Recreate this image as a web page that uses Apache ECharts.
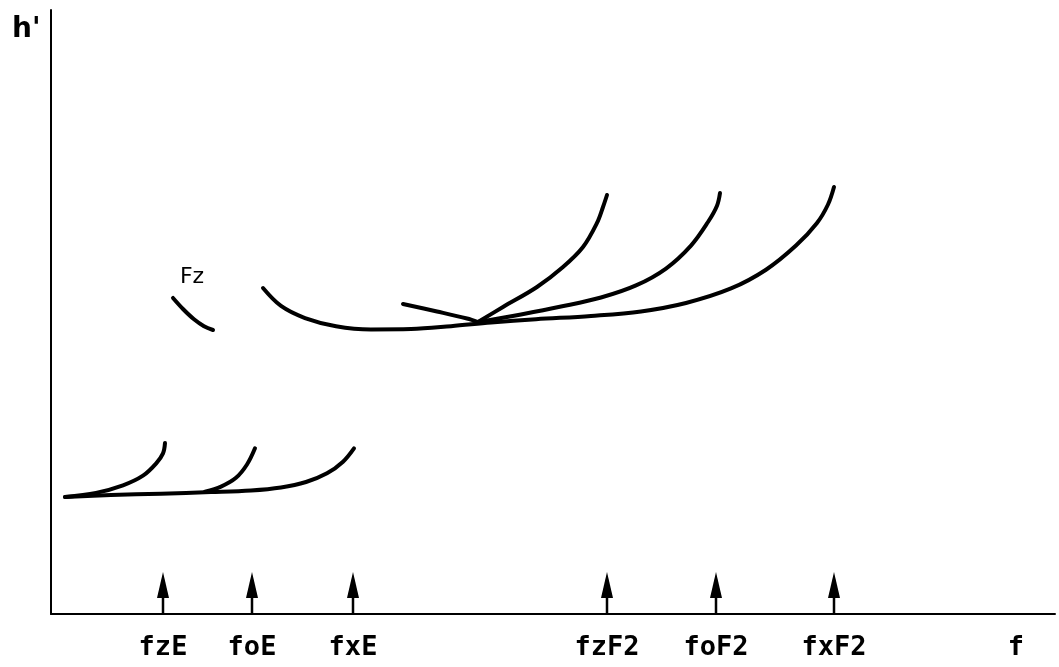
<!DOCTYPE html>
<html>
<head>
<meta charset="utf-8">
<script src="https://cdn.jsdelivr.net/npm/echarts@6/dist/echarts.min.js"></script>
<style>html,body{margin:0;padding:0;background:#fff}#c{width:1059px;height:667px}</style>
</head>
<body>
<div id="c"></div>
<script>
// ---- data (frequency f in arbitrary units, virtual height h' in arbitrary units) ----
const tickNames  = ['fzE', 'foE', 'fxE', 'fzF2', 'foF2', 'fxF2', 'f'];
const tickValues = [11.2, 20.1, 30.2, 55.6, 66.5, 78.3, 96.5];
const arrowFreqs = [11.2, 20.1, 30.2, 55.6, 66.5, 78.3];
const arrowTip = 6.95;

const traceFzE = [[1.4,19.37],[4.5,20.05],[7.2,21.30],[9.2,22.90],[10.5,24.90],[11.2,26.60],[11.4,28.31]];
const traceFxE = [[1.4,19.37],[6.0,19.70],[11.0,19.92],[16.0,20.18],[20.0,20.45],[23.0,20.95],[25.5,21.85],[27.6,23.29],[29.2,25.22],[30.3,27.43]];
const traceFoE = [[15.4,20.26],[17.0,21.10],[18.5,22.55],[19.6,24.75],[20.4,27.43]];
const traceFz  = [[12.2,52.32],[13.2,50.50],[14.3,48.80],[15.3,47.65],[16.2,47.02]];
const traceFxF2 = [[21.2,53.97],[23.0,51.00],[25.4,49.00],[28.5,47.65],[32.0,47.12],[36.0,47.18],[40.0,47.65],[44.0,48.25],[48.5,48.80],[54.0,49.35],[59.0,50.10],[63.5,51.50],[68.0,53.90],[71.5,57.00],[74.5,61.00],[76.6,64.74],[77.7,67.80],[78.3,70.70]];
const traceFoF2 = [[42.7,48.34],[47.0,49.60],[51.0,50.90],[55.0,52.40],[58.5,54.40],[61.5,57.20],[64.0,61.00],[65.7,64.90],[66.6,67.60],[66.9,69.70]];
const traceFzF2 = [[42.7,48.34],[45.2,50.83],[48.6,54.14],[51.2,57.45],[53.2,60.76],[54.6,64.74],[55.2,67.38],[55.6,69.37]];
const traceZLow = [[35.2,51.32],[38.6,50.08],[41.6,48.92],[42.7,48.34]];

const fzLabel = 'Fz';

// ---- chart ----
const traceStyle = { color: '#000', width: 4, cap: 'round', join: 'round' };
function trace(data) {
  return { type: 'line', data: data, smooth: 0.35, showSymbol: false, symbol: 'none',
           lineStyle: traceStyle, silent: true, animation: false, z: 3 };
}

const series = [
  trace(traceFzE), trace(traceFxE), trace(traceFoE), trace(traceFz),
  trace(traceFxF2), trace(traceFoF2), trace(traceFzF2), trace(traceZLow)
];

arrowFreqs.forEach(function (x) {
  series.push({ type: 'line', data: [[x, 0], [x, arrowTip * 0.5]], showSymbol: false, symbol: 'none',
    lineStyle: { color: '#000', width: 2.5 }, silent: true, animation: false, z: 2 });
});
series.push({
  type: 'scatter', data: arrowFreqs.map(function (x) { return [x, arrowTip]; }),
  symbol: 'triangle', symbolSize: [12, 26], symbolOffset: [0, '50%'],
  itemStyle: { color: '#000', opacity: 1 }, silent: true, animation: false, z: 4
});
series.push({
  type: 'scatter', data: [traceFz[0]], symbolSize: 0, silent: true, animation: false,
  itemStyle: { opacity: 1 },
  label: { show: true, formatter: fzLabel, position: 'top', distance: 5, offset: [19, -5],
           fontFamily: 'DejaVu Sans', fontSize: 22, color: '#000' }
});

const chart = echarts.init(document.getElementById('c'), null, { renderer: 'canvas' });
chart.setOption({
  backgroundColor: '#fff',
  animation: false,
  grid: { left: 51, right: 4, top: 10, bottom: 53 },
  xAxis: {
    type: 'value', min: 0, max: 100.4,
    axisLine: { show: true, onZero: false, lineStyle: { color: '#000', width: 2 } },
    axisTick: { show: false },
    splitLine: { show: false },
    axisLabel: {
      customValues: tickValues,
      formatter: function (v) {
        const i = tickValues.indexOf(v);
        return i >= 0 ? tickNames[i] : '';
      },
      margin: 20, color: '#000', fontFamily: 'DejaVu Sans Mono', fontWeight: 'bold',
      fontSize: 27, lineHeight: 28
    }
  },
  yAxis: {
    type: 'value', min: 0, max: 100,
    axisLine: { show: true, onZero: false, lineStyle: { color: '#000', width: 2 } },
    axisTick: { show: false },
    splitLine: { show: false },
    axisLabel: { show: false }
  },
  graphic: [{
    type: 'text', left: 12, top: 16,
    style: { text: "h'", fill: '#000', font: 'bold 28px "DejaVu Sans"' }
  }],
  series: series
});
</script>
</body>
</html>
